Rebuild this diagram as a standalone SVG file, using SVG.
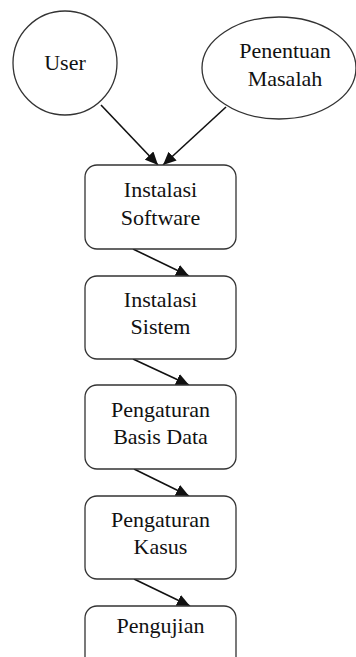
<svg xmlns="http://www.w3.org/2000/svg" width="356" height="657" viewBox="0 0 356 657">
<style>
.shape{fill:#fff;stroke:#333;stroke-width:1.3}
.lbl{font-family:'Liberation Serif',serif;font-size:22px;fill:#111;text-anchor:middle}
.edge{stroke:#111;stroke-width:1.6;fill:none;marker-end:url(#arr)}
</style>
<defs>
<marker id="arr" markerUnits="userSpaceOnUse" markerWidth="14" markerHeight="12" viewBox="0 0 14 12" refX="13" refY="6" orient="auto">
<path d="M0,0 L13,6 L0,12 z" fill="#111"/>
</marker>
</defs>
<rect width="356" height="657" fill="#fff"/>
<g id="connectors">
<line class="edge" x1="101" y1="105" x2="158" y2="165"/>
<line class="edge" x1="226" y1="107" x2="163" y2="165"/>
<line class="edge" x1="133" y1="249" x2="189" y2="276"/>
<line class="edge" x1="133" y1="359" x2="189" y2="385"/>
<line class="edge" x1="134" y1="469" x2="189" y2="496"/>
<line class="edge" x1="134" y1="579" x2="190" y2="606"/>
</g>
<g id="user">
<circle class="shape" cx="65" cy="63" r="52"/>
<text class="lbl" x="65" y="70">User</text>
</g>
<g id="penentuan">
<ellipse class="shape" cx="279" cy="68" rx="77" ry="51"/>
<text class="lbl" x="285" y="58">Penentuan</text>
<text class="lbl" x="285" y="86">Masalah</text>
</g>
<g id="instalasi-software">
<rect class="shape" x="85" y="165" width="151" height="84" rx="12"/>
<text class="lbl" x="160.5" y="197">Instalasi</text>
<text class="lbl" x="160.5" y="225">Software</text>
</g>
<g id="instalasi-sistem">
<rect class="shape" x="85" y="276" width="151" height="83" rx="12"/>
<text class="lbl" x="160.5" y="307">Instalasi</text>
<text class="lbl" x="160.5" y="334">Sistem</text>
</g>
<g id="pengaturan-basis-data">
<rect class="shape" x="85" y="385" width="151" height="84" rx="12"/>
<text class="lbl" x="160.5" y="417">Pengaturan</text>
<text class="lbl" x="160.5" y="444">Basis Data</text>
</g>
<g id="pengaturan-kasus">
<rect class="shape" x="85" y="496" width="151" height="83" rx="12"/>
<text class="lbl" x="160.5" y="527">Pengaturan</text>
<text class="lbl" x="160.5" y="554">Kasus</text>
</g>
<g id="pengujian">
<rect class="shape" x="85" y="606" width="151" height="84" rx="12"/>
<text class="lbl" x="160.5" y="633">Pengujian</text>
</g>
</svg>
